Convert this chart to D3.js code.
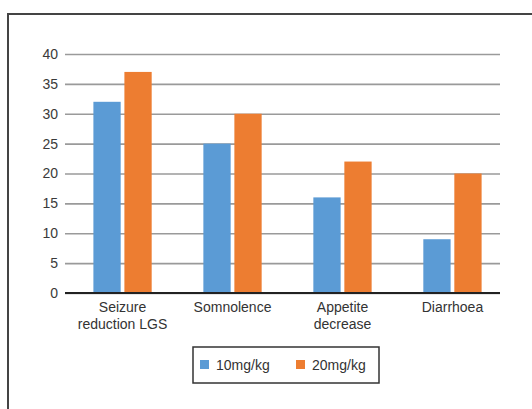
<!DOCTYPE html>
<html><head><meta charset="utf-8">
<script src="https://cdn.jsdelivr.net/npm/d3@7"></script>
<style>body{margin:0;background:#fff}svg{display:block}</style>
</head><body>
<script>
const categories = [["Seizure","reduction LGS"],["Somnolence"],["Appetite","decrease"],["Diarrhoea"]];
const seriesNames = ["10mg/kg","20mg/kg"];
const values10 = [32, 25, 16, 9];
const values20 = [37, 30, 22, 20];
const yTicks = [0,5,10,15,20,25,30,35,40];
const colors = ["#5B9BD5","#ED7D31"];
const font = "'Liberation Sans Narrow','Arial Narrow','Liberation Sans',sans-serif";

const W = 532, H = 409;
const svg = d3.select("body").append("svg").attr("width", W).attr("height", H);
svg.append("rect").attr("x",8).attr("y",14).attr("width",W).attr("height",H)
  .attr("fill","none").attr("stroke","#444").attr("stroke-width",2);

const x0 = 65, x1 = 500;
const y = d3.scaleLinear().domain([0,40]).range([293,54]);
const xb = d3.scaleBand().domain(d3.range(categories.length)).range([x0+2,x1+8]).paddingInner(0.47).paddingOuter(0.24);
const xs = d3.scaleBand().domain([0,1]).range([0,xb.bandwidth()]).paddingInner(0.12);

const g = svg.append("g");
const yAxis = d3.axisLeft(y).tickValues(yTicks).tickSize(-(x1-x0)).tickPadding(7);
const ya = g.append("g").attr("transform",`translate(${x0},0)`).call(yAxis);
ya.select(".domain").remove();
ya.selectAll(".tick line").attr("stroke","#9a9a9a").attr("stroke-width",1.6);
ya.selectAll(".tick text").attr("font-family",font).attr("font-size",14).attr("fill","#3a3a3a");

const data = categories.map((c,i)=>({i, v:[values10[i], values20[i]]}));
const grp = g.selectAll(".grp").data(data).join("g").attr("transform",d=>`translate(${xb(d.i)},0)`);
grp.selectAll("rect").data(d=>d.v.map((v,k)=>({v,k}))).join("rect")
  .attr("x",d=>xs(d.k)).attr("width",xs.bandwidth())
  .attr("y",d=>y(d.v)).attr("height",d=>y(0)-y(d.v)).attr("fill",d=>colors[d.k]);

g.append("line").attr("x1",x0).attr("x2",x1).attr("y1",y(0)).attr("y2",y(0)).attr("stroke","#222").attr("stroke-width",2);

categories.forEach((c,i)=>{
  const t = g.append("text").attr("x", xb(i)+xb.bandwidth()/2).attr("y",312)
    .attr("text-anchor","middle").attr("font-family",font).attr("font-size",14).attr("fill","#333");
  c.forEach((line,j)=>t.append("tspan").attr("x",xb(i)+xb.bandwidth()/2).attr("dy", j===0?0:17).text(line));
});

const lg = svg.append("g");
lg.append("rect").attr("x",193).attr("y",347).attr("width",186).attr("height",36)
  .attr("fill","#fff").attr("stroke","#333").attr("stroke-width",1.5);
const lx = [200, 296];
seriesNames.forEach((s,k)=>{
  lg.append("rect").attr("x",lx[k]).attr("y",360).attr("width",9).attr("height",9).attr("fill",colors[k]);
  lg.append("text").attr("x",lx[k]+16).attr("y",369.5).attr("font-family",font).attr("font-size",14).attr("fill","#333").text(s);
});
</script>
</body></html>
